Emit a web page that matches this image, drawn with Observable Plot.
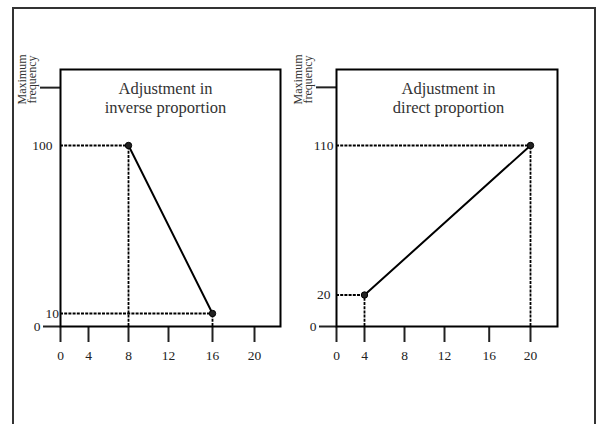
<!DOCTYPE html>
<html>
<head>
<meta charset="utf-8">
<script src="https://cdn.jsdelivr.net/npm/d3@7"></script>
<script src="https://cdn.jsdelivr.net/npm/@observablehq/plot@0.6"></script>
<style>
  html, body { margin: 0; padding: 0; background: white; }
  #chart { position: relative; width: 601px; height: 424px; overflow: hidden; background: white; }
  #outer { position: absolute; left: 12px; top: 7px; width: 584px; height: 500px; border: 2px solid #333; box-sizing: border-box; }
</style>
</head>
<body>
<div id="chart"><div id="outer"></div></div>
<script>
// ---- data ----
const xTicks = [0, 4, 8, 12, 16, 20];

const inverseTitle = "Adjustment in\ninverse proportion";
const inverseX = [8, 16];
const inverseY = [100, 10];
const inverseYTicks = [0, 10, 100];
const inverseMaxLevel = 131;

const directTitle = "Adjustment in\ndirect proportion";
const directX = [4, 20];
const directY = [20, 110];
const directYTicks = [0, 20, 110];
const directMaxLevel = 145;

const yAxisLabel = "Maximum\nfrequency";

// ---- drawing ----
// The hand-drawn axes are unevenly spaced: each scale warps its ticks piecewise.
function panel(cfg) {
  const pts = cfg.xs.map((x, i) => ({x, y: cfg.ys[i]}));
  const dashH = pts.map(p => ({x1: 0, x2: p.x, y: p.y}));
  const dashV = pts.map(p => ({x: p.x, y1: 0, y2: p.y}));
  const warpX = d3.scaleLinear().domain(xTicks).range(cfg.xWarp);
  const warpY = d3.scaleLinear().domain(cfg.yTicks).range(cfg.yWarp);
  const xLabel = new Map(xTicks.map(v => [+warpX(v).toFixed(3), String(v)]));
  const yAxis = (v, opts) => Plot.axisY({
    ticks: [+warpY(v).toFixed(3)], tickFormat: () => String(v), label: null, ...opts
  });
  const labelAxes = cfg.yTicks.filter(v => v !== 0).map((v, i) =>
    yAxis(v, {tickSize: 0, tickPadding: cfg.yPad[i]})
  );
  return Plot.plot({
    width: cfg.width,
    height: 424,
    marginTop: 69,
    marginBottom: 98,
    marginLeft: cfg.marginLeft,
    marginRight: cfg.marginRight,
    style: {background: "none", overflow: "visible", fontFamily: "'Liberation Serif', serif", fontSize: "13.5px", color: "#222"},
    x: {domain: [0, cfg.xSpan], transform: warpX, label: null},
    y: {domain: [0, 257], transform: warpY, label: null},
    marks: [
      Plot.ruleY(dashH, {x1: "x1", x2: "x2", y: "y", stroke: "black", strokeWidth: 1.8, strokeDasharray: "3,1.2"}),
      Plot.ruleX(dashV, {x: "x", y1: "y1", y2: "y2", stroke: "black", strokeWidth: 1.8, strokeDasharray: "3,1.2"}),
      Plot.line(pts, {x: "x", y: "y", stroke: "black", strokeWidth: 2}),
      Plot.dot(pts, {x: "x", y: "y", r: 3.2, fill: "#222", stroke: "black", strokeWidth: 1}),
      Plot.axisX({
        ticks: xTicks.map(v => +warpX(v).toFixed(3)),
        tickFormat: d => xLabel.get(+(+d).toFixed(3)),
        tickSize: 16, tickPadding: 8, strokeWidth: 2, label: null
      }),
      yAxis(0, {tickSize: 17, tickPadding: 3, strokeWidth: 2}),
      yAxis(cfg.maxLevel, {tickSize: 20, tickFormat: () => "", strokeWidth: 2}),
      ...labelAxes,
      Plot.frame({stroke: "black", strokeWidth: 2}),
      Plot.text([cfg.title], {frameAnchor: "top", lineAnchor: "top", dy: 10, dx: cfg.titleDx, fontSize: 16.5, lineHeight: 1.2, fill: "#333"}),
      Plot.text([yAxisLabel], {frameAnchor: "top-left", rotate: -90, dx: -33, dy: 10, textAnchor: "middle", lineAnchor: "middle", fontSize: 12, lineHeight: 0.85, fill: "#333"})
    ]
  });
}

const left = panel({
  xs: inverseX, ys: inverseY, yTicks: inverseYTicks, yPad: [1.5, 8],
  title: inverseTitle, titleDx: -5, maxLevel: inverseMaxLevel,
  width: 290, marginLeft: 60, marginRight: 10,
  xSpan: 220, xWarp: [0, 28, 68, 108, 152, 194],
  yWarp: [0, 13, 181]
});
const right = panel({
  xs: directX, ys: directY, yTicks: directYTicks, yPad: [6, 3],
  title: directTitle, titleDx: 1.5, maxLevel: directMaxLevel,
  width: 311, marginLeft: 46, marginRight: 44,
  xSpan: 221, xWarp: [0, 28, 68, 108, 152.7, 194],
  yWarp: [0, 31.5, 181]
});

const chart = document.getElementById("chart");
[[left, 0], [right, 290]].forEach(([svg, x]) => {
  svg.style.position = "absolute";
  svg.style.left = x + "px";
  svg.style.top = "0px";
  chart.appendChild(svg);
});
</script>
</body>
</html>
